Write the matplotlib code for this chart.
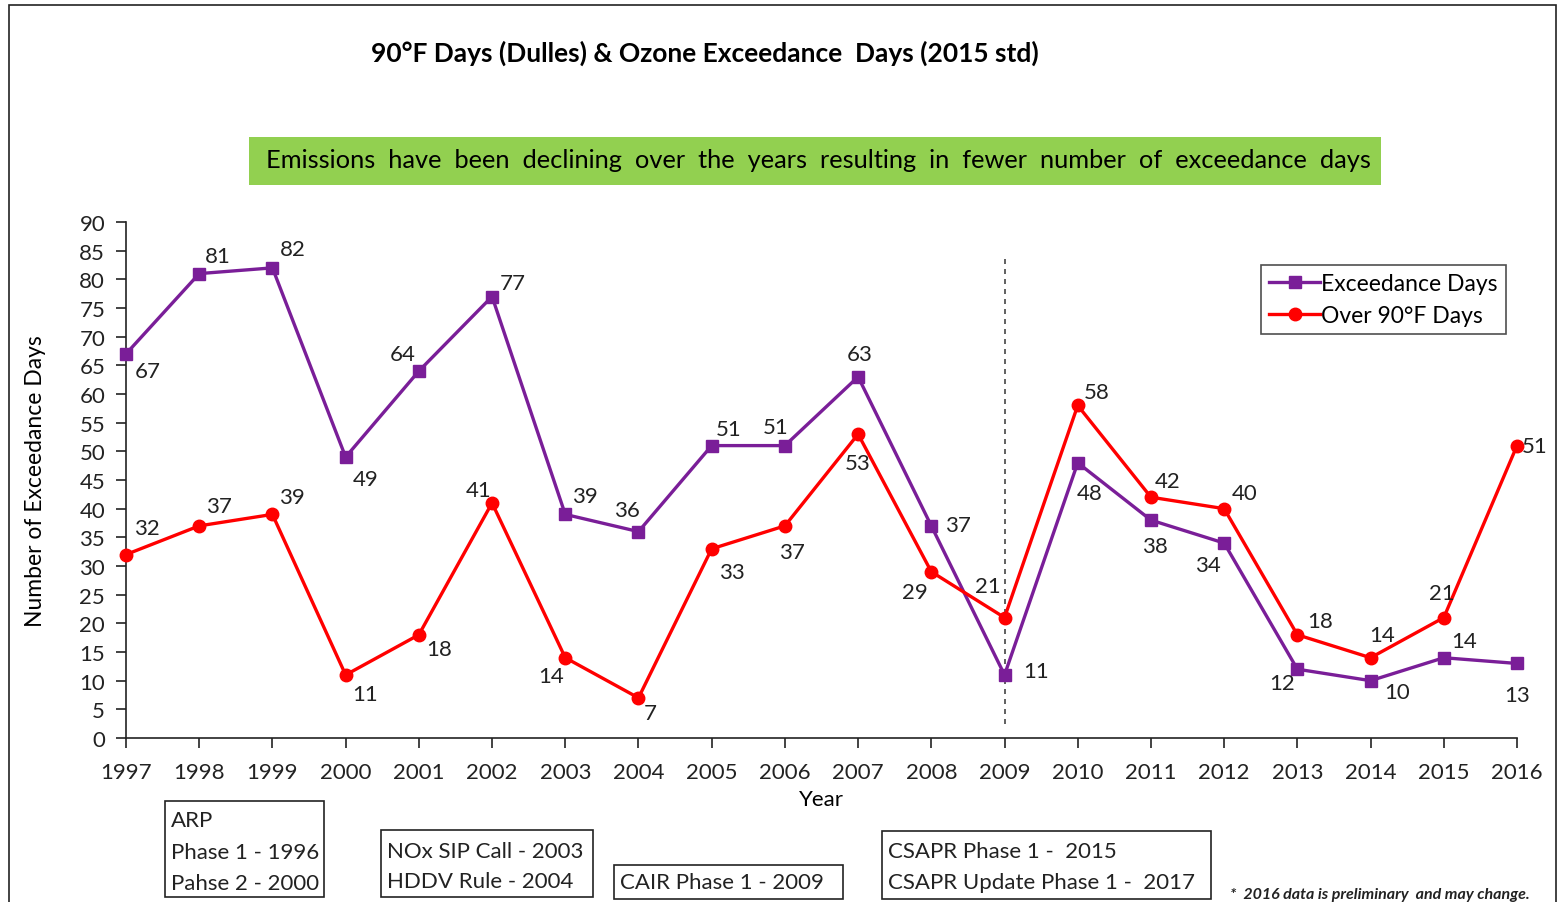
import matplotlib
matplotlib.use("Agg")
import matplotlib.pyplot as plt
from matplotlib.patches import Rectangle

plt.rcParams['font.family'] = ['Lato', 'DejaVu Sans']

years = list(range(1997, 2017))
exceed_days = [67, 81, 82, 49, 64, 77, 39, 36, 51, 51, 63, 37, 11, 48, 38, 34, 12, 10, 14, 13]
hot_days = [32, 37, 39, 11, 18, 41, 14, 7, 33, 37, 53, 29, 21, 58, 42, 40, 18, 14, 21, 51]

# label offsets in pixels (dx right, dy down)
exceed_off = [(22, 17), (19, -18), (20, -19), (20, 22), (-16, -17), (21, -14), (20, -18),
              (-12, -22), (17, -17), (-9, -19), (2, -23), (27, -1), (32, -4), (12, 30),
              (4, 26), (-16, 22), (-15, 14), (26, 11), (20, -17), (0, 32)]
hot_off = [(21, -27), (20, -20), (19, -17), (19, 19), (20, 14), (-13, -13), (-14, 18),
           (12, 15), (20, 23), (7, 26), (0, 29), (-16, 20), (-17, -32), (19, -13),
           (17, -16), (20, -16), (23, -14), (11, -23), (-2, -25), (18, 0)]

purple = '#7A1E98'
red = '#FF0000'

fig = plt.figure(figsize=(15.6, 9.03), dpi=100)
W, H = 1560, 903
ax = fig.add_axes([126 / W, 1 - 739 / H, (1517 - 126) / W, (739 - 223) / H])

ax.plot(years, exceed_days, color=purple, lw=2.4, marker='s', ms=8.5,
        label='Exceedance Days', clip_on=False, zorder=3)
ax.plot(years, hot_days, color=red, lw=2.4, marker='o', ms=9,
        label='Over 90°F Days', clip_on=False, zorder=3)

for yr, v, (dx, dy) in zip(years, exceed_days, exceed_off):
    ax.annotate(str(v), (yr, v), xytext=(dx, -dy), textcoords='offset pixels',
                ha='center', va='center', fontsize=16, color='#222222')
for yr, v, (dx, dy) in zip(years, hot_days, hot_off):
    ax.annotate(str(v), (yr, v), xytext=(dx, -dy), textcoords='offset pixels',
                ha='center', va='center', fontsize=16, color='#222222')

ax.vlines(2009, 2.5, 84, colors='#444444', linestyles=(0, (3, 3)), lw=1.2, zorder=1)

ax.set_xlim(1997, 2016)
ax.set_ylim(0, 90)
ax.set_xticks(years)
ax.set_yticks(range(0, 91, 5))
ax.tick_params(axis='both', direction='out', length=7, width=1.2, labelsize=16,
               colors='#222222')
ax.tick_params(axis='x', pad=10)
ax.tick_params(axis='y', pad=8)
for s in ['top', 'right']:
    ax.spines[s].set_visible(False)
for s in ['left', 'bottom']:
    ax.spines[s].set_linewidth(1.2)
    ax.spines[s].set_color('#222222')

ax.set_xlabel('Year', fontsize=16, labelpad=5)
ax.set_ylabel('Number of Exceedance Days', fontsize=16.5, labelpad=24)

leg = ax.legend(loc='upper right', bbox_to_anchor=(1.0, 0.938), fontsize=16.5,
                frameon=True, fancybox=False, handlelength=2.2, handletextpad=0.05,
                borderpad=0.35, labelspacing=0.45)
leg.get_frame().set_edgecolor('#222222')
leg.get_frame().set_linewidth(1.2)

fig.text(705 / W, 1 - 53 / H, '90°F Days (Dulles) & Ozone Exceedance  Days (2015 std)',
         ha='center', va='center', fontsize=19, fontweight='bold')

fig.patches.append(Rectangle((249 / W, 1 - 186 / H), (1381 - 249) / W, 48 / H,
                             transform=fig.transFigure, fc='#92D050', ec='none'))
fig.text(818 / W, 1 - 161 / H,
         'Emissions  have  been  declining  over  the  years  resulting  in  fewer  number  of  exceedance  days',
         ha='center', va='center', fontsize=18.3)

boxes = [
    ((165, 802, 324, 898), ['ARP', 'Phase 1 - 1996', 'Pahse 2 - 2000'], [821, 853, 884]),
    ((381, 831, 593, 898), ['NOx SIP Call - 2003', 'HDDV Rule - 2004'], [852, 882]),
    ((614, 866, 843, 900), ['CAIR Phase 1 - 2009'], [883]),
    ((882, 832, 1211, 900), ['CSAPR Phase 1 -  2015', 'CSAPR Update Phase 1 -  2017'], [852, 883]),
]
for (x0, y0, x1, y1), lines, ys in boxes:
    fig.patches.append(Rectangle((x0 / W, 1 - y1 / H), (x1 - x0) / W, (y1 - y0) / H,
                                 transform=fig.transFigure, fc='white', ec='#222222', lw=1.2))
    for txt, yy in zip(lines, ys):
        fig.text((x0 + 6) / W, 1 - yy / H, txt, ha='left', va='center', fontsize=16,
                 color='#222222')

fig.text(1230 / W, 1 - 895 / H, '*  2016 data is preliminary  and may change.',
         ha='left', va='center', fontsize=11.5, fontweight='bold', style='italic',
         color='#222222')

fig.patches.append(Rectangle((9 / W, -0.01), (1556 - 9) / W, 1 - 6 / H + 0.01,
                             transform=fig.transFigure, fc='none', ec='#222222', lw=1.2))

fig.savefig('out.png', dpi=100)
